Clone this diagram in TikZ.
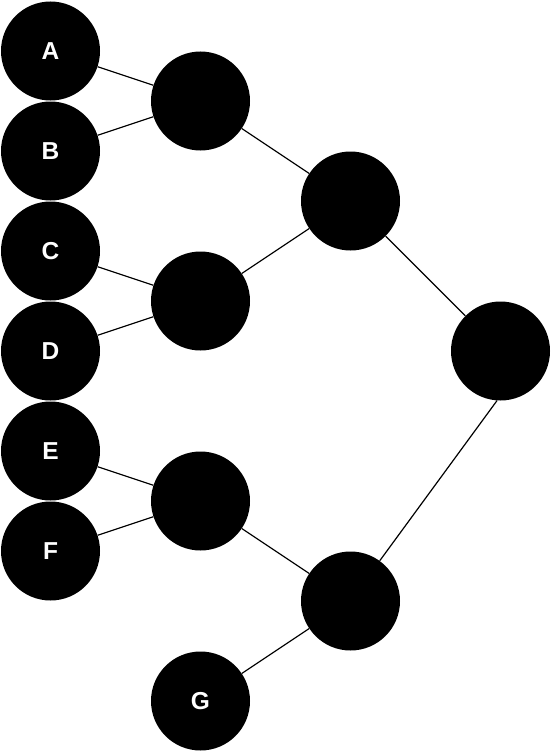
\documentclass[tikz,border=0pt]{standalone}
\usepackage{fontspec}
\setmainfont{Liberation Sans}
\usepackage{tikz}
\usetikzlibrary{
  arrows.meta,
  positioning
}
\definecolor{treeInk}{HTML}{000000}
\tikzset{
  treeNode/.style={
    circle,
    fill=treeInk,
    draw=none,
    minimum size=99pt,
    inner sep=0pt,
    text=white,
    font=\fontsize{24.5}{26}\selectfont\bfseries
  },
  treeEdge/.style={treeInk, line width=1.2pt}
}

\begin{document}
\begin{tikzpicture}[x=1pt,y=-1pt]
  \useasboundingbox (0,0) rectangle (552,752);

  % leaves
  \node[treeNode] (A) at (50.5,51) {A};
  \node[treeNode] (B) at (50.5,151) {B};
  \node[treeNode] (C) at (50.5,251) {C};
  \node[treeNode] (D) at (50.5,351) {D};
  \node[treeNode] (E) at (50.5,451) {E};
  \node[treeNode] (F) at (50.5,551) {F};
  \node[treeNode] (G) at (200.5,701) {G};

  % inner nodes
  \node[treeNode] (ab) at (200.5,101) {};
  \node[treeNode] (cd) at (200.5,301) {};
  \node[treeNode] (ef) at (200.5,501) {};
  \node[treeNode] (abcd) at (350.5,201) {};
  \node[treeNode] (efg) at (350.5,601) {};
  \node[treeNode] (root) at (500.5,351) {};

  \foreach \a/\b in {A/ab,B/ab,C/cd,D/cd,E/ef,F/ef,G/efg,
                     ab/abcd,cd/abcd,ef/efg,abcd/root} {
    \draw[treeEdge] (\a) -- (\b);
  }
  \draw[treeEdge] (efg.54) -- (root.266);
\end{tikzpicture}
\end{document}
